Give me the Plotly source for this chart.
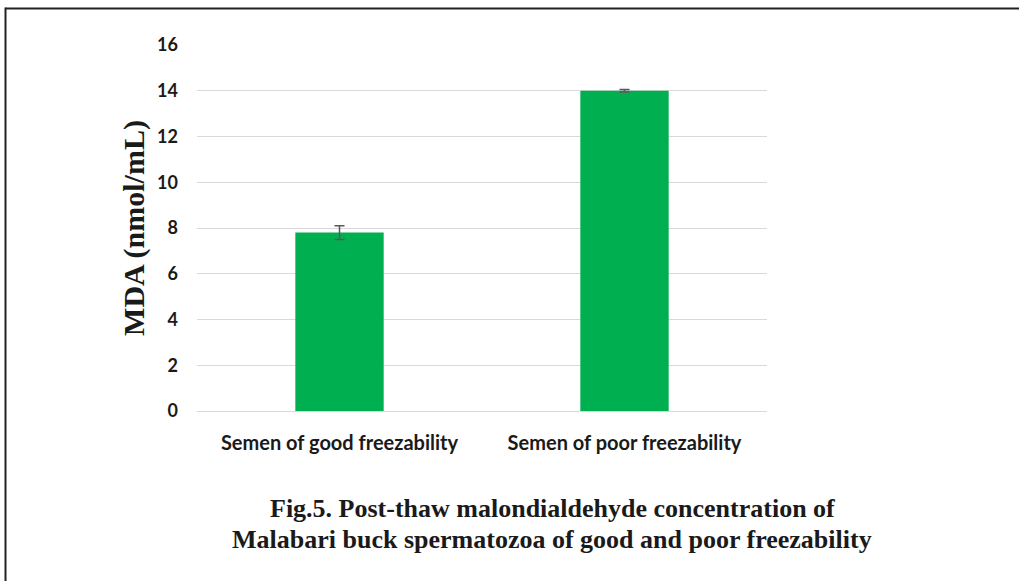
import plotly.graph_objects as go

# Malondialdehyde (MDA) levels by semen freezability group
categories = ["Semen of good freezability", "Semen of poor freezability"]
mda_mean = [7.8, 14.0]
mda_err = [0.3, 0.05]
y_ticks = [0, 2, 4, 6, 8, 10, 12, 14, 16]
caption_lines = [
    "Fig.5. Post-thaw malondialdehyde concentration of",
    "Malabari buck spermatozoa of good and poor freezability",
]

W, H = 1019, 581
L, R, T, B = 197, 252, 45, 170
pw, ph = W - L - R, H - T - B


def px_x(p):
    return (p - L) / pw


def px_y(p):
    return (H - B - p) / ph


fig = go.Figure(
    go.Bar(
        x=categories,
        y=mda_mean,
        marker=dict(color="#00b050", line=dict(width=0)),
        width=0.31,
        error_y=dict(type="data", array=mda_err, visible=True,
                     color="#595959", thickness=1.5, width=5),
    )
)

caption_font = dict(family="Liberation Serif", size=26, color="#1a1a1a", weight="bold")

fig.update_layout(
    width=W, height=H,
    margin=dict(l=L, r=R, t=T, b=B),
    paper_bgcolor="white", plot_bgcolor="white",
    showlegend=False,
    xaxis=dict(
        showgrid=False, showline=False, zeroline=False,
        tickfont=dict(family="Lato", size=20, color="#1a1a1a", weight="bold"),
        ticklabelstandoff=18,
    ),
    yaxis=dict(
        range=[0, 16], tickvals=y_ticks,
        showgrid=True, gridcolor="#d9d9d9", gridwidth=1.2,
        zeroline=True, zerolinecolor="#d9d9d9", zerolinewidth=1.2,
        showline=False,
        tickfont=dict(family="Lato", size=18, color="#1a1a1a", weight="bold"),
        ticklabelstandoff=18,
        title=dict(text="MDA (nmol/mL)", standoff=3,
                   font=dict(family="Liberation Serif", size=30, color="#1a1a1a", weight="bold")),
    ),
    shapes=[
        # frame: top and left edges
        dict(type="line", xref="paper", yref="paper",
             x0=px_x(5.5), x1=px_x(W + 5), y0=px_y(8.5), y1=px_y(8.5),
             line=dict(color="#222222", width=2)),
        dict(type="line", xref="paper", yref="paper",
             x0=px_x(5.5), x1=px_x(5.5), y0=px_y(7.5), y1=px_y(H + 5),
             line=dict(color="#222222", width=2)),
    ],
    annotations=[
        dict(xref="paper", yref="paper", x=px_x(552), y=px_y(yc),
             xanchor="center", yanchor="middle", showarrow=False,
             text=line, font=caption_font)
        for line, yc in zip(caption_lines, [508, 539])
    ],
)

fig.write_html("out.html")
